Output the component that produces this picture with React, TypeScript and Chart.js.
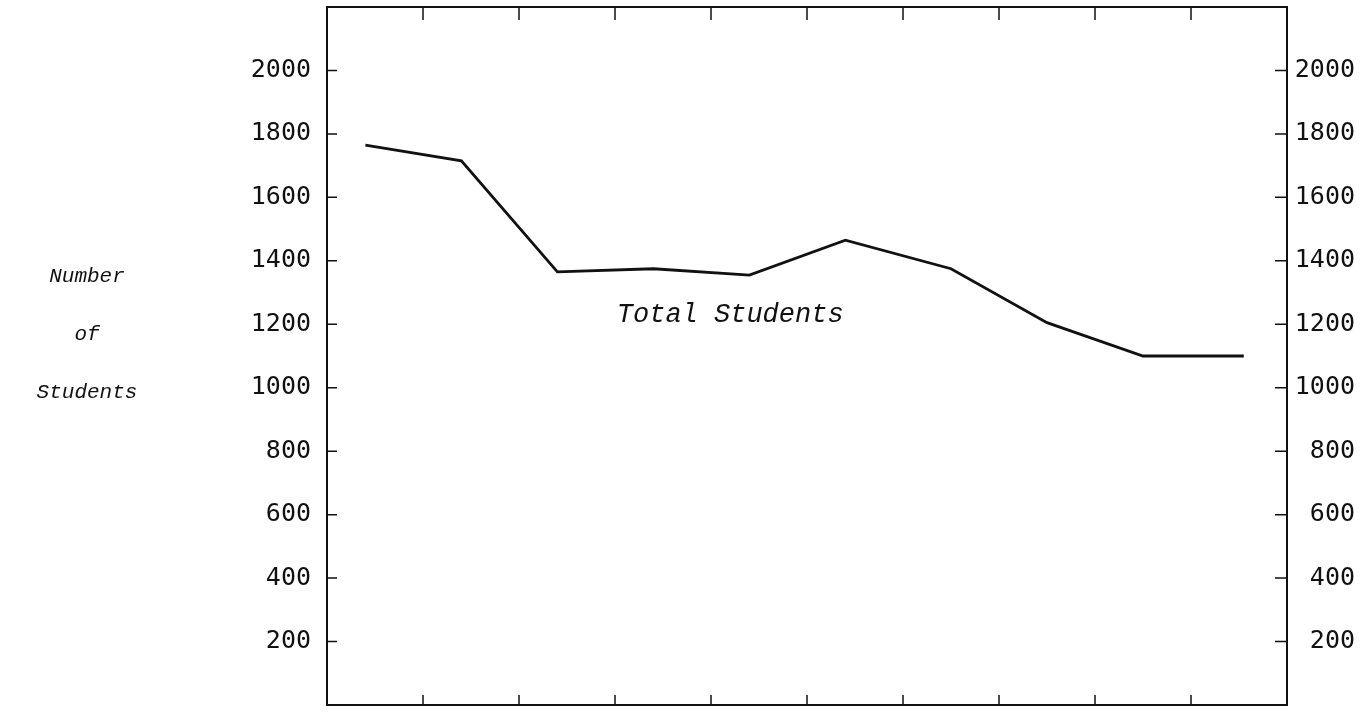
import React, { useEffect, useRef } from 'react';
import { Chart, registerables } from 'chart.js';

Chart.register(...registerables);

// ---- data ----
const X_POSITIONS = [0.4, 1.4, 2.4, 3.4, 4.4, 5.4, 6.5, 7.5, 8.5, 9.55];
const TOTAL_STUDENTS = [1765, 1715, 1365, 1375, 1355, 1465, 1375, 1205, 1100, 1100];
const Y_TICK_LABELS = [200, 400, 600, 800, 1000, 1200, 1400, 1600, 1800, 2000];
const X_TICK_MARKS = [1, 2, 3, 4, 5, 6, 7, 8, 9];
const Y_AXIS_TITLE = ['Number', 'of', 'Students'];
const SERIES_NAME = 'Total Students';
const SERIES_NAME_AT = [4.2, 1230];

const INK = '#111111';
const TICK_FONT = { family: '"DejaVu Sans Mono", monospace', size: 25 };
const ITALIC_FONT = '"Liberation Mono", "DejaVu Sans Mono", monospace';

const framePlugin = {
  id: 'frameAndInwardTicks',
  afterDatasetsDraw(chart: any) {
    const { ctx, chartArea } = chart;
    const { left, right, top, bottom } = chartArea;
    const x = chart.scales.x;
    const y = chart.scales.y;
    ctx.save();
    ctx.strokeStyle = INK;
    ctx.lineWidth = 2;
    ctx.strokeRect(left, top, right - left, bottom - top);
    ctx.lineWidth = 1.5;
    ctx.beginPath();
    X_TICK_MARKS.forEach((v) => {
      const px = x.getPixelForValue(v);
      ctx.moveTo(px, top);
      ctx.lineTo(px, top + 13);
      ctx.moveTo(px, bottom);
      ctx.lineTo(px, bottom - 10);
    });
    Y_TICK_LABELS.forEach((v) => {
      const py = y.getPixelForValue(v);
      ctx.moveTo(left, py);
      ctx.lineTo(left + 10, py);
      ctx.moveTo(right, py);
      ctx.lineTo(right - 12, py);
    });
    ctx.stroke();

    // axis title (left, unrotated)
    ctx.fillStyle = INK;
    ctx.textAlign = 'center';
    ctx.textBaseline = 'middle';
    ctx.font = `italic 21px ${ITALIC_FONT}`;
    const cx = left - 240;
    const yMid = y.getPixelForValue(1200);
    Y_AXIS_TITLE.forEach((t, i) => {
      ctx.fillText(t, cx, yMid - 48 + i * 58);
    });

    // series label
    ctx.font = `italic 27px ${ITALIC_FONT}`;
    ctx.fillText(SERIES_NAME, x.getPixelForValue(SERIES_NAME_AT[0]), y.getPixelForValue(SERIES_NAME_AT[1]));
    ctx.restore();
  },
};

export default function App() {
  const ref = useRef<HTMLCanvasElement | null>(null);
  useEffect(() => {
    document.body.style.margin = '0';
    const canvas = ref.current;
    if (!canvas) return;
    const yTickOpts = {
      stepSize: 200,
      autoSkip: false,
      font: TICK_FONT,
      color: INK,
      padding: 16,
      callback: (v: any) => (Y_TICK_LABELS.includes(Number(v)) ? String(v) : ''),
    };
    const chart = new Chart(canvas, {
      type: 'line',
      data: {
        datasets: [
          {
            label: SERIES_NAME,
            data: X_POSITIONS.map((x, i) => ({ x, y: TOTAL_STUDENTS[i] })),
            borderColor: INK,
            borderWidth: 2.8,
            pointRadius: 0,
            tension: 0,
            fill: false,
          },
        ],
      },
      options: {
        animation: false,
        responsive: true,
        maintainAspectRatio: false,
        layout: { padding: { top: 7, bottom: 10, left: 0, right: 17 } },
        plugins: { legend: { display: false }, tooltip: { enabled: false } },
        scales: {
          x: {
            type: 'linear',
            min: 0,
            max: 10,
            display: false,
          },
          y: {
            type: 'linear',
            position: 'left',
            min: 0,
            max: 2200,
            grid: { display: false, drawTicks: false },
            border: { display: false },
            ticks: { ...yTickOpts },
            afterFit: (s: any) => {
              s.width = 327;
              s.paddingTop = 0;
              s.paddingBottom = 0;
            },
          },
          y2: {
            type: 'linear',
            position: 'right',
            min: 0,
            max: 2200,
            grid: { display: false, drawTicks: false },
            border: { display: false },
            ticks: { ...yTickOpts, crossAlign: 'far' },
            afterFit: (s: any) => {
              s.width = 68;
              s.paddingTop = 0;
              s.paddingBottom = 0;
            },
          },
        },
      } as any,
      plugins: [framePlugin],
    });
    return () => chart.destroy();
  }, []);
  return (
    <div style={{ width: 1372, height: 715, position: 'relative', background: '#fff' }}>
      <canvas ref={ref} />
    </div>
  );
}
